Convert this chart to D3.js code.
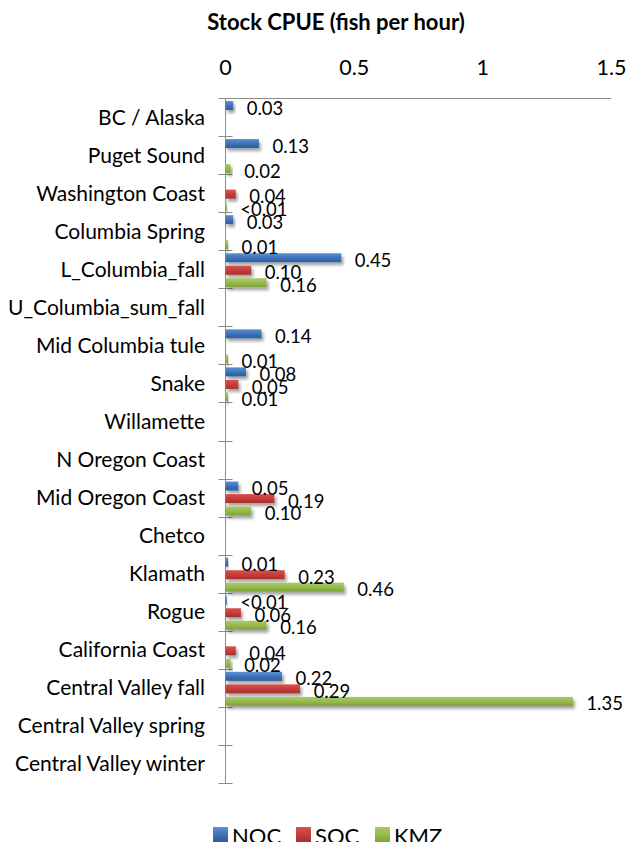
<!DOCTYPE html>
<html><head><meta charset="utf-8">
<script src="https://cdn.jsdelivr.net/npm/d3@7"></script>
<style>body{margin:0;background:#fff;} svg{display:block;}</style>
</head><body>
<svg id="c" width="627" height="842"></svg>
<script>
const categories = ["BC / Alaska","Puget Sound","Washington Coast","Columbia Spring","L_Columbia_fall","U_Columbia_sum_fall","Mid Columbia tule","Snake","Willamette","N Oregon Coast","Mid Oregon Coast","Chetco","Klamath ","Rogue","California Coast","Central Valley fall","Central Valley spring","Central Valley winter"];
const seriesNames = ["NOC","SOC","KMZ"];
// null = no catch; 0.005 stands for "<0.01"
const NOC = [0.03,0.13,null,0.03,0.45,null,0.14,0.08,null,null,0.05,null,0.01,0.005,null,0.22,null,null];
const SOC = [null,null,0.04,null,0.10,null,null,0.05,null,null,0.19,null,0.23,0.06,0.04,0.29,null,null];
const KMZ = [null,0.02,0.005,0.01,0.16,null,0.01,0.01,null,null,0.10,null,0.46,0.16,0.02,1.35,null,null];
const xTicks = [0,0.5,1,1.5];
const title = "Stock CPUE (fish per hour)";

const colors = {NOC:["#5b90d6","#3d6fb4","#2f5d9c"], SOC:["#d8534f","#c23c39","#a8302d"], KMZ:["#a8cc62","#93b84b","#7ea03c"]};
const seriesData = {NOC, SOC, KMZ};

const svg = d3.select("#c");
const font = "Lato, 'Noto Sans', sans-serif";
const defs = svg.append("defs");
seriesNames.forEach(s=>{
  const g = defs.append("linearGradient").attr("id","g"+s).attr("x1",0).attr("y1",0).attr("x2",0).attr("y2",1);
  g.append("stop").attr("offset","0%").attr("stop-color",colors[s][0]);
  g.append("stop").attr("offset","55%").attr("stop-color",colors[s][1]);
  g.append("stop").attr("offset","100%").attr("stop-color",colors[s][2]);
});
const f = defs.append("filter").attr("id","sh").attr("x","-20%").attr("y","-50%").attr("width","150%").attr("height","250%");
f.append("feDropShadow").attr("dx",2).attr("dy",3).attr("stdDeviation",1.8).attr("flood-color","#000").attr("flood-opacity",0.35);

const x = d3.scaleLinear().domain([0,1.5]).range([225,611]);
const y = d3.scaleBand().domain(categories).range([98,783]);
const ys = d3.scaleBand().domain(seriesNames).range([3, y.bandwidth()-1]).paddingInner(0.28);

// title
svg.append("text").attr("x",336).attr("y",30).attr("text-anchor","middle")
  .attr("font-family",font).attr("font-weight","bold").attr("font-size",22).attr("fill","#000").text(title);

// top axis
const xAxis = d3.axisTop(x).tickValues(xTicks).tickSize(0).tickPadding(0).tickFormat(d=>String(d));
const gx = svg.append("g").attr("transform","translate(0,75)").call(xAxis);
gx.select(".domain").remove();
gx.selectAll("text").attr("font-family",font).attr("font-size",21.5).attr("fill","#000").attr("dy",0);
svg.append("line").attr("x1",x(0)).attr("x2",x(1.5)).attr("y1",98.5).attr("y2",98.5).attr("stroke","#8c8c8c").attr("stroke-width",1);

// category axis
const gy = svg.append("g").attr("transform","translate(225.5,0)");
gy.append("line").attr("y1",98).attr("y2",783).attr("stroke","#8c8c8c");
const bounds = categories.map(c=>y(c)).concat([y.range()[1]]);
gy.selectAll("line.t").data(bounds).join("line").attr("class","t")
  .attr("x1",-7).attr("x2",7).attr("y1",d=>Math.round(d)+0.5).attr("y2",d=>Math.round(d)+0.5).attr("stroke","#8c8c8c");
svg.append("g").selectAll("text").data(categories).join("text")
  .attr("x",205).attr("y",d=>y(d)+y.bandwidth()/2+7.5).attr("text-anchor","end")
  .attr("font-family",font).attr("font-size",21).attr("fill","#000").text(d=>d);

// bars
const flat = [];
categories.forEach((c,i)=>seriesNames.forEach(s=>{const v=seriesData[s][i]; if(v!==null) flat.push({c,s,v});}));
const bars = svg.append("g");
bars.selectAll("rect").data(flat).join("rect")
  .attr("x",x(0)+0.5).attr("y",d=>y(d.c)+ys(d.s)).attr("height",ys.bandwidth())
  .attr("width",d=>x(d.v)-x(0)).attr("fill",d=>"url(#g"+d.s+")").attr("filter","url(#sh)");
svg.append("g").selectAll("text").data(flat).join("text")
  .attr("x",d=>x(d.v)+14).attr("y",d=>y(d.c)+ys(d.s)+ys.bandwidth()/2+2.5+6.6)
  .attr("font-family",font).attr("font-size",18.5).attr("fill","#000")
  .text(d=>d.v<0.01?"<0.01":d.v.toFixed(2));

// legend
const lg = svg.append("g");
const lx = [213,296,375];
seriesNames.forEach((s,i)=>{
  lg.append("rect").attr("x",lx[i]).attr("y",827).attr("width",15).attr("height",15).attr("fill","url(#g"+s+")");
  lg.append("text").attr("x",lx[i]+19).attr("y",844).attr("font-family",font).attr("font-size",22).attr("fill","#000").text(s);
});
</script>
</body></html>
